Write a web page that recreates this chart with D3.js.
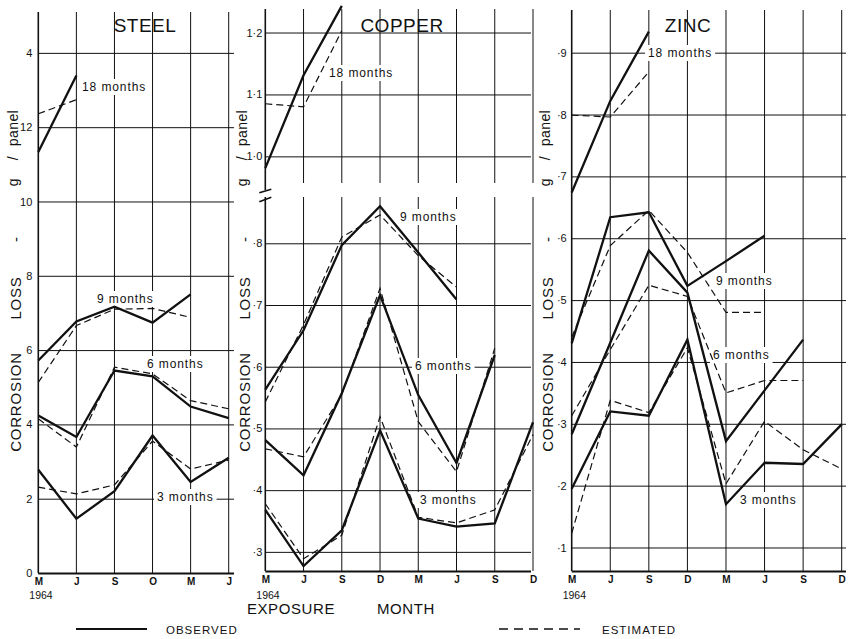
<!DOCTYPE html>
<html>
<head>
<meta charset="utf-8">
<script src="https://cdn.jsdelivr.net/npm/d3@7"></script>
<style>
  body { margin: 0; background: #fff; }
  svg { display: block; }
  text { font-family: "Liberation Sans", Arial, sans-serif; fill: #111; }
</style>
</head>
<body>
<svg id="chart" width="850" height="639"></svg>
<script>
// ---- exposure months (start of exposure) ----
const steelMonths = ["M", "J", "S", "O", "M", "J"];
const copperMonths = ["M", "J", "S", "D", "M", "J", "S", "D"];
const zincMonths = ["M", "J", "S", "D", "M", "J", "S", "D"];

// ---- tick values and their printed labels ----
const steelTicks = [0, 2, 4, 6, 8, 10, 12, 14];
const steelTickLabels = ["0", "2", "4", "6", "8", "10", "12", "4"];
const copperLowTicks = [0.3, 0.4, 0.5, 0.6, 0.7, 0.8];
const copperLowTickLabels = ["·3", "·4", "·5", "·6", "·7", "·8"];
const copperHighTicks = [1.0, 1.1, 1.2];
const copperHighTickLabels = ["1·0", "1·1", "1·2"];
const zincTicks = [0.1, 0.2, 0.3, 0.4, 0.5, 0.6, 0.7, 0.8, 0.9];
const zincTickLabels = ["·1", "·2", "·3", "·4", "·5", "·6", "·7", "·8", "·9"];

// ---- corrosion loss, g / panel : observed and estimated ----
const steel3Obs = [2.78, 1.46, 2.2, 3.7, 2.45, 3.1];
const steel3Est = [2.31, 2.13, 2.37, 3.55, 2.8, 3.04];
const steel6Obs = [4.24, 3.66, 5.45, 5.29, 4.48, 4.17];
const steel6Est = [4.15, 3.39, 5.54, 5.36, 4.64, 4.42];
const steel9Obs = [5.72, 6.77, 7.17, 6.74, 7.5];
const steel9Est = [5.13, 6.66, 7.1, 7.12, 6.88];
const steel18Obs = [11.33, 13.39];
const steel18Est = [12.36, 12.74];

const copper3Obs = [0.368, 0.277, 0.335, 0.497, 0.354, 0.341, 0.346, 0.51];
const copper3Est = [0.378, 0.289, 0.327, 0.519, 0.356, 0.347, 0.368, 0.49];
const copper6Obs = [0.481, 0.424, 0.557, 0.716, 0.554, 0.444, 0.619];
const copper6Est = [0.467, 0.454, 0.555, 0.727, 0.511, 0.43, 0.63];
const copper9Obs = [0.563, 0.659, 0.797, 0.86, 0.785, 0.709];
const copper9Est = [0.543, 0.668, 0.81, 0.846, 0.78, 0.729];
const copper18Obs = [0.981, 1.131, 1.243];
const copper18Est = [1.085, 1.08, 1.203];

const zinc3Obs = [0.195, 0.32, 0.313, 0.436, 0.17, 0.237, 0.235, 0.299];
const zinc3Est = [0.123, 0.338, 0.318, 0.423, 0.203, 0.304, 0.258, 0.227];
const zinc6Obs = [0.283, 0.431, 0.58, 0.512, 0.272, 0.354, 0.436];
const zinc6Est = [0.313, 0.42, 0.524, 0.506, 0.35, 0.37, 0.37];
const zinc9Obs = [0.43, 0.634, 0.642, 0.523, 0.563, 0.604];
const zinc9Est = [0.44, 0.588, 0.645, 0.577, 0.48, 0.48];
const zinc18Obs = [0.674, 0.822, 0.934];
const zinc18Est = [0.799, 0.796, 0.869];

const seriesNames = ["3 months", "6 months", "9 months", "18 months"];

// ---------------------------------------------------------------
const svg = d3.select("#chart");
const INK = "#111";

// panel layout: each panel has one or more vertical bands (copper is broken)
const panels = [
  {
    title: "STEEL", titleX: 145, months: steelMonths, xr: [38.3, 228.7], gridRight: 234,
    titleAxisX: 16, tickPad: 6,
    bands: [
      { scale: d3.scaleLinear().domain([0, 15.1]).range([573, 12]),
        ticks: steelTicks, labels: steelTickLabels }
    ],
    series: [
      { obs: steel3Obs, est: steel3Est, band: 0, lx: 157, ly: 501 },
      { obs: steel6Obs, est: steel6Est, band: 0, lx: 147, ly: 368 },
      { obs: steel9Obs, est: steel9Est, band: 0, lx: 97, ly: 303 },
      { obs: steel18Obs, est: steel18Est, band: 0, lx: 82, ly: 91 }
    ]
  },
  {
    title: "COPPER", titleX: 402, months: copperMonths, xr: [265.3, 533], gridRight: 531,
    titleAxisX: 245, tickPad: 3,
    bands: [
      { scale: d3.scaleLinear().domain([0.269, 0.875]).range([571, 197]),
        ticks: copperLowTicks, labels: copperLowTickLabels },
      { scale: d3.scaleLinear().domain([0.957, 1.238]).range([183, 9]),
        ticks: copperHighTicks, labels: copperHighTickLabels }
    ],
    series: [
      { obs: copper3Obs, est: copper3Est, band: 0, lx: 420, ly: 504 },
      { obs: copper6Obs, est: copper6Est, band: 0, lx: 415, ly: 370 },
      { obs: copper9Obs, est: copper9Est, band: 0, lx: 400, ly: 221 },
      { obs: copper18Obs, est: copper18Est, band: 1, lx: 329, ly: 77 }
    ]
  },
  {
    title: "ZINC", titleX: 688, months: zincMonths, xr: [571.7, 841.7], gridRight: 846,
    titleAxisX: 548, tickPad: 5,
    bands: [
      { scale: d3.scaleLinear().domain([0.062, 0.969]).range([571, 10]),
        ticks: zincTicks, labels: zincTickLabels }
    ],
    series: [
      { obs: zinc3Obs, est: zinc3Est, band: 0, lx: 740, ly: 504 },
      { obs: zinc6Obs, est: zinc6Est, band: 0, lx: 713, ly: 359 },
      { obs: zinc9Obs, est: zinc9Est, band: 0, lx: 716, ly: 285 },
      { obs: zinc18Obs, est: zinc18Est, band: 0, lx: 648, ly: 57 }
    ]
  }
];

panels.forEach(p => {
  const g = svg.append("g");
  const x = d3.scalePoint().domain(d3.range(p.months.length)).range(p.xr);
  const x0 = p.xr[0];

  // horizontal grid lines and tick labels for each band
  p.bands.forEach(b => {
    const [yBot, yTop] = b.scale.range();
    const grid = g.append("g")
      .attr("transform", `translate(${x0},0)`)
      .call(d3.axisLeft(b.scale).tickValues(b.ticks).tickFormat("")
        .tickSize(-(p.gridRight - x0)));
    grid.select(".domain").remove();
    grid.selectAll(".tick line").attr("stroke", INK).attr("stroke-width", 1);

    const lab = g.append("g")
      .attr("transform", `translate(${x0},0)`)
      .call(d3.axisLeft(b.scale).tickValues(b.ticks)
        .tickFormat((d, i) => b.labels[i]).tickSize(0).tickPadding(p.tickPad));
    lab.select(".domain").remove();
    lab.selectAll("text").attr("font-size", 11).attr("fill", INK)
      .attr("font-family", "'Liberation Sans', Arial, sans-serif");

    // vertical month lines through this band
    g.append("g").selectAll("line")
      .data(d3.range(p.months.length))
      .join("line")
      .attr("x1", i => x(i)).attr("x2", i => x(i))
      .attr("y1", yTop).attr("y2", yBot)
      .attr("stroke", INK)
      .attr("stroke-width", i => i === 0 ? 1.6 : 1);
  });

  // bottom axis with month letters
  const yBottom = p.bands[0].scale.range()[0];
  const ax = g.append("g")
    .attr("transform", `translate(0,${yBottom})`)
    .call(d3.axisBottom(x).tickFormat(i => p.months[i]).tickSize(0).tickPadding(5));
  ax.select(".domain").attr("d", `M${x0},0.5H${p.gridRight}`)
    .attr("stroke", INK).attr("stroke-width", 2.2);
  ax.selectAll("text").attr("font-size", 10).attr("font-weight", "bold").attr("fill", INK)
    .attr("font-family", "'Liberation Sans', Arial, sans-serif");

  g.append("text").attr("x", x0 - 9).attr("y", 599)
    .attr("font-size", 10.5).text("1964");

  // panel title
  g.append("text").attr("x", p.titleX).attr("y", 32)
    .attr("text-anchor", "middle").attr("font-size", 19).attr("letter-spacing", 0.5)
    .text(p.title);

  // rotated axis title, drawn in pieces
  const vt = [
    ["CORROSION", 402, 15, 5], ["LOSS", 298, 15, 5], ["-", 239, 15, 5],
    ["g", 182, 14, 2], ["/", 158, 14, 2], ["panel", 128, 14, 2]
  ];
  vt.forEach(([t, yc, fs, dx]) => {
    g.append("text")
      .attr("transform", `translate(${p.titleAxisX + dx},${yc}) rotate(-90)`)
      .attr("text-anchor", "middle").attr("font-size", fs)
      .attr("letter-spacing", t === "panel" ? 0.4 : 0.8)
      .text(t);
  });

  // series labels on a white ground, under the data lines
  p.series.forEach((s, k) => {
    const t = g.append("text").attr("x", s.lx).attr("y", s.ly)
      .attr("font-size", 12).attr("letter-spacing", 0.9).text(seriesNames[k]);
    const bb = t.node().getBBox();
    g.insert("rect", () => t.node())
      .attr("x", bb.x - 3).attr("y", bb.y - 1)
      .attr("width", bb.width + 6).attr("height", bb.height + 2)
      .attr("fill", "#fff");
  });

  // observed (solid) and estimated (dashed) lines
  p.series.forEach(s => {
    const y = p.bands[s.band].scale;
    const line = d3.line().x((d, i) => x(i)).y(d => y(d));
    g.append("path").datum(s.est).attr("d", line)
      .attr("fill", "none").attr("stroke", INK).attr("stroke-width", 1.2)
      .attr("stroke-dasharray", "7,4");
    g.append("path").datum(s.obs).attr("d", line)
      .attr("fill", "none").attr("stroke", INK).attr("stroke-width", 2.3)
      .attr("stroke-linejoin", "miter");
  });

  // break marks on the copper axis
  if (p.bands.length > 1) {
    g.append("line").attr("x1", x0).attr("x2", x0)
      .attr("y1", p.bands[1].scale.range()[0]).attr("y2", 190)
      .attr("stroke", INK).attr("stroke-width", 1.6);
    [[192.7, 189.3], [201.7, 197.3]].forEach(([a, b]) => {
      g.append("line").attr("x1", x0 - 6).attr("y1", a).attr("x2", x0 + 6).attr("y2", b)
        .attr("stroke", INK).attr("stroke-width", 1.6);
    });
  }
});

// shared x-axis title
svg.append("text").attr("x", 291).attr("y", 614).attr("text-anchor", "middle")
  .attr("font-size", 15).attr("letter-spacing", 0.6).text("EXPOSURE");
svg.append("text").attr("x", 406).attr("y", 614).attr("text-anchor", "middle")
  .attr("font-size", 15).attr("letter-spacing", 0.6).text("MONTH");

// legend
const legend = svg.append("g");
legend.append("line").attr("x1", 76).attr("x2", 147).attr("y1", 629).attr("y2", 629)
  .attr("stroke", INK).attr("stroke-width", 2);
legend.append("text").attr("x", 166).attr("y", 633.5).attr("font-size", 11.5)
  .attr("letter-spacing", 1).text("OBSERVED");
legend.append("line").attr("x1", 499).attr("x2", 580).attr("y1", 629).attr("y2", 629)
  .attr("stroke", INK).attr("stroke-width", 1.3).attr("stroke-dasharray", "9,6");
legend.append("text").attr("x", 602).attr("y", 633.5).attr("font-size", 11.5)
  .attr("letter-spacing", 1).text("ESTIMATED");
</script>
</body>
</html>
